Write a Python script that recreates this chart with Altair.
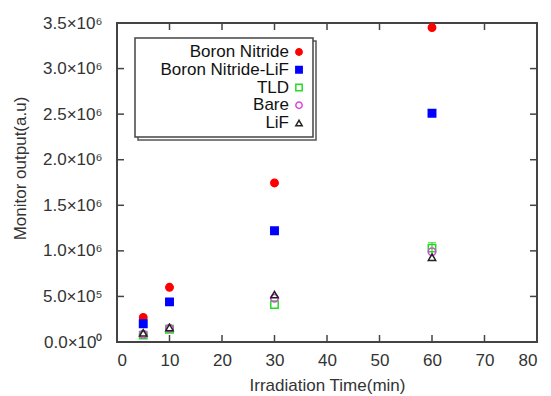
import altair as alt
import pandas as pd

series = ["Boron Nitride", "Boron Nitride-LiF", "TLD", "Bare", "LiF"]
times = [5, 10, 30, 60]
bn = [0.27e6, 0.60e6, 1.745e6, 3.45e6]
bnlif = [0.20e6, 0.44e6, 1.22e6, 2.51e6]
tld = [0.075e6, 0.14e6, 0.41e6, 1.03e6]
bare = [0.085e6, 0.15e6, 0.48e6, 0.99e6]
lif = [0.10e6, 0.16e6, 0.52e6, 0.93e6]
tld_err_low = [0.96e6]
tld_err_high = [1.09e6]
tld_err_t = [60]

colors = ["#ff0000", "#0000ff", "#22dd22", "#dd44dd", "#222222"]
fills = ["#ff0000", "#0000ff", "transparent", "transparent", "transparent"]
shapes = ["circle", "square", "square", "circle", "triangle-up"]

xticks = [0, 10, 20, 30, 40, 50, 60, 70, 80]
yticks = [0, 0.5e6, 1.0e6, 1.5e6, 2.0e6, 2.5e6, 3.0e6, 3.5e6]

W, H = 420, 319

rows = []
for name, vals in zip(series, [bn, bnlif, tld, bare, lif]):
    for t, v in zip(times, vals):
        rows.append({"series": name, "t": t, "v": v})
df = pd.DataFrame(rows)

color_scale = alt.Scale(domain=series, range=colors)
fill_scale = alt.Scale(domain=series, range=fills)
shape_scale = alt.Scale(domain=series, range=shapes)

xs = alt.Scale(domain=[0, 80], nice=False)
ys = alt.Scale(domain=[0, 3.5e6], nice=False)

ylabel = ("datum.value == 0 ? '0.0×10⁰' : (datum.value < 1e6 ? format(datum.value/1e5, '.1f') + '×10⁵' : "
          "format(datum.value/1e6, '.1f') + '×10⁶')")

points = alt.Chart(df).mark_point(strokeWidth=1.5, opacity=1, size=55).encode(
    x=alt.X("t:Q", scale=xs, title="Irradiation Time(min)",
            axis=alt.Axis(values=xticks, ticks=False, domain=False, grid=False,
                          labelPadding=10, titleBaseline="middle", titleY=43)),
    y=alt.Y("v:Q", scale=ys, title="Monitor output(a.u)",
            axis=alt.Axis(values=yticks, ticks=False, domain=False, grid=False,
                          labelExpr=ylabel, labelPadding=15,
                          titleBaseline="middle", titleX=-97, titleY=145)),
    stroke=alt.Stroke("series:N", scale=color_scale, legend=None),
    fill=alt.Fill("series:N", scale=fill_scale, legend=None),
    shape=alt.Shape("series:N", scale=shape_scale, legend=None),
)

err_df = pd.DataFrame({"t": tld_err_t, "lo": tld_err_low, "hi": tld_err_high})
err_rule = alt.Chart(err_df).mark_rule(color="#22dd22", strokeWidth=1.2).encode(
    x=alt.X("t:Q", scale=xs), y=alt.Y("lo:Q", scale=ys), y2="hi:Q")
err_cap = alt.Chart(err_df).mark_tick(color="#22dd22", orient="horizontal", size=8, thickness=1.2).encode(
    x=alt.X("t:Q", scale=xs), y=alt.Y("hi:Q", scale=ys))

xt_df = pd.DataFrame({"x": xticks})
yt_df = pd.DataFrame({"y": yticks})
tick_style = dict(color="#444444", strokeWidth=1.5)
xt_bot = alt.Chart(xt_df).mark_rule(**tick_style).encode(
    x=alt.X("x:Q", scale=xs), y=alt.value(H), y2=alt.value(H - 7))
xt_top = alt.Chart(xt_df).mark_rule(**tick_style).encode(
    x=alt.X("x:Q", scale=xs), y=alt.value(0), y2=alt.value(7))
yt_left = alt.Chart(yt_df).mark_rule(**tick_style).encode(
    y=alt.Y("y:Q", scale=ys), x=alt.value(0), x2=alt.value(7))
yt_right = alt.Chart(yt_df).mark_rule(**tick_style).encode(
    y=alt.Y("y:Q", scale=ys), x=alt.value(W), x2=alt.value(W - 7))

box_df = pd.DataFrame({"a": [0]})
shadow = alt.Chart(box_df).mark_rect(fill="white", stroke="#555555", strokeWidth=1.5).encode(
    x=alt.value(21), x2=alt.value(199), y=alt.value(18), y2=alt.value(117))
box = alt.Chart(box_df).mark_rect(fill="white", stroke="#444444", strokeWidth=1.5).encode(
    x=alt.value(18), x2=alt.value(196), y=alt.value(15), y2=alt.value(114))

leg_df = pd.DataFrame({"series": series})
leg_y = alt.Y("series:N", sort=series, axis=None,
              scale=alt.Scale(type="point", range=[29, 100], padding=0))
leg_text = alt.Chart(leg_df).mark_text(align="right", baseline="middle", fontSize=17,
                                       font="Liberation Sans", color="#111111").encode(
    x=alt.value(172), y=leg_y, text="series:N")
leg_sym = alt.Chart(leg_df).mark_point(strokeWidth=1.5, opacity=1, size=40).encode(
    x=alt.value(182), y=leg_y,
    stroke=alt.Stroke("series:N", scale=color_scale, legend=None),
    fill=alt.Fill("series:N", scale=fill_scale, legend=None),
    shape=alt.Shape("series:N", scale=shape_scale, legend=None),
)

main = alt.layer(xt_bot, xt_top, yt_left, yt_right, err_rule, err_cap, points)
legend = alt.layer(shadow, box, leg_text, leg_sym)

chart = alt.layer(main, legend).resolve_scale(y="independent").properties(
    width=W, height=H,
    autosize=alt.AutoSizeParams(type="none"),
    padding={"left": 117, "top": 23, "right": 14, "bottom": 54},
).configure_view(stroke="#444444", strokeWidth=2).configure_axis(
    labelFont="Liberation Sans", titleFont="Liberation Sans",
    labelFontSize=17, titleFontSize=17, labelColor="#333333", titleColor="#333333",
    titleFontWeight="normal",
)

chart.save("out.html", embed_options={"renderer": "svg", "actions": False})
